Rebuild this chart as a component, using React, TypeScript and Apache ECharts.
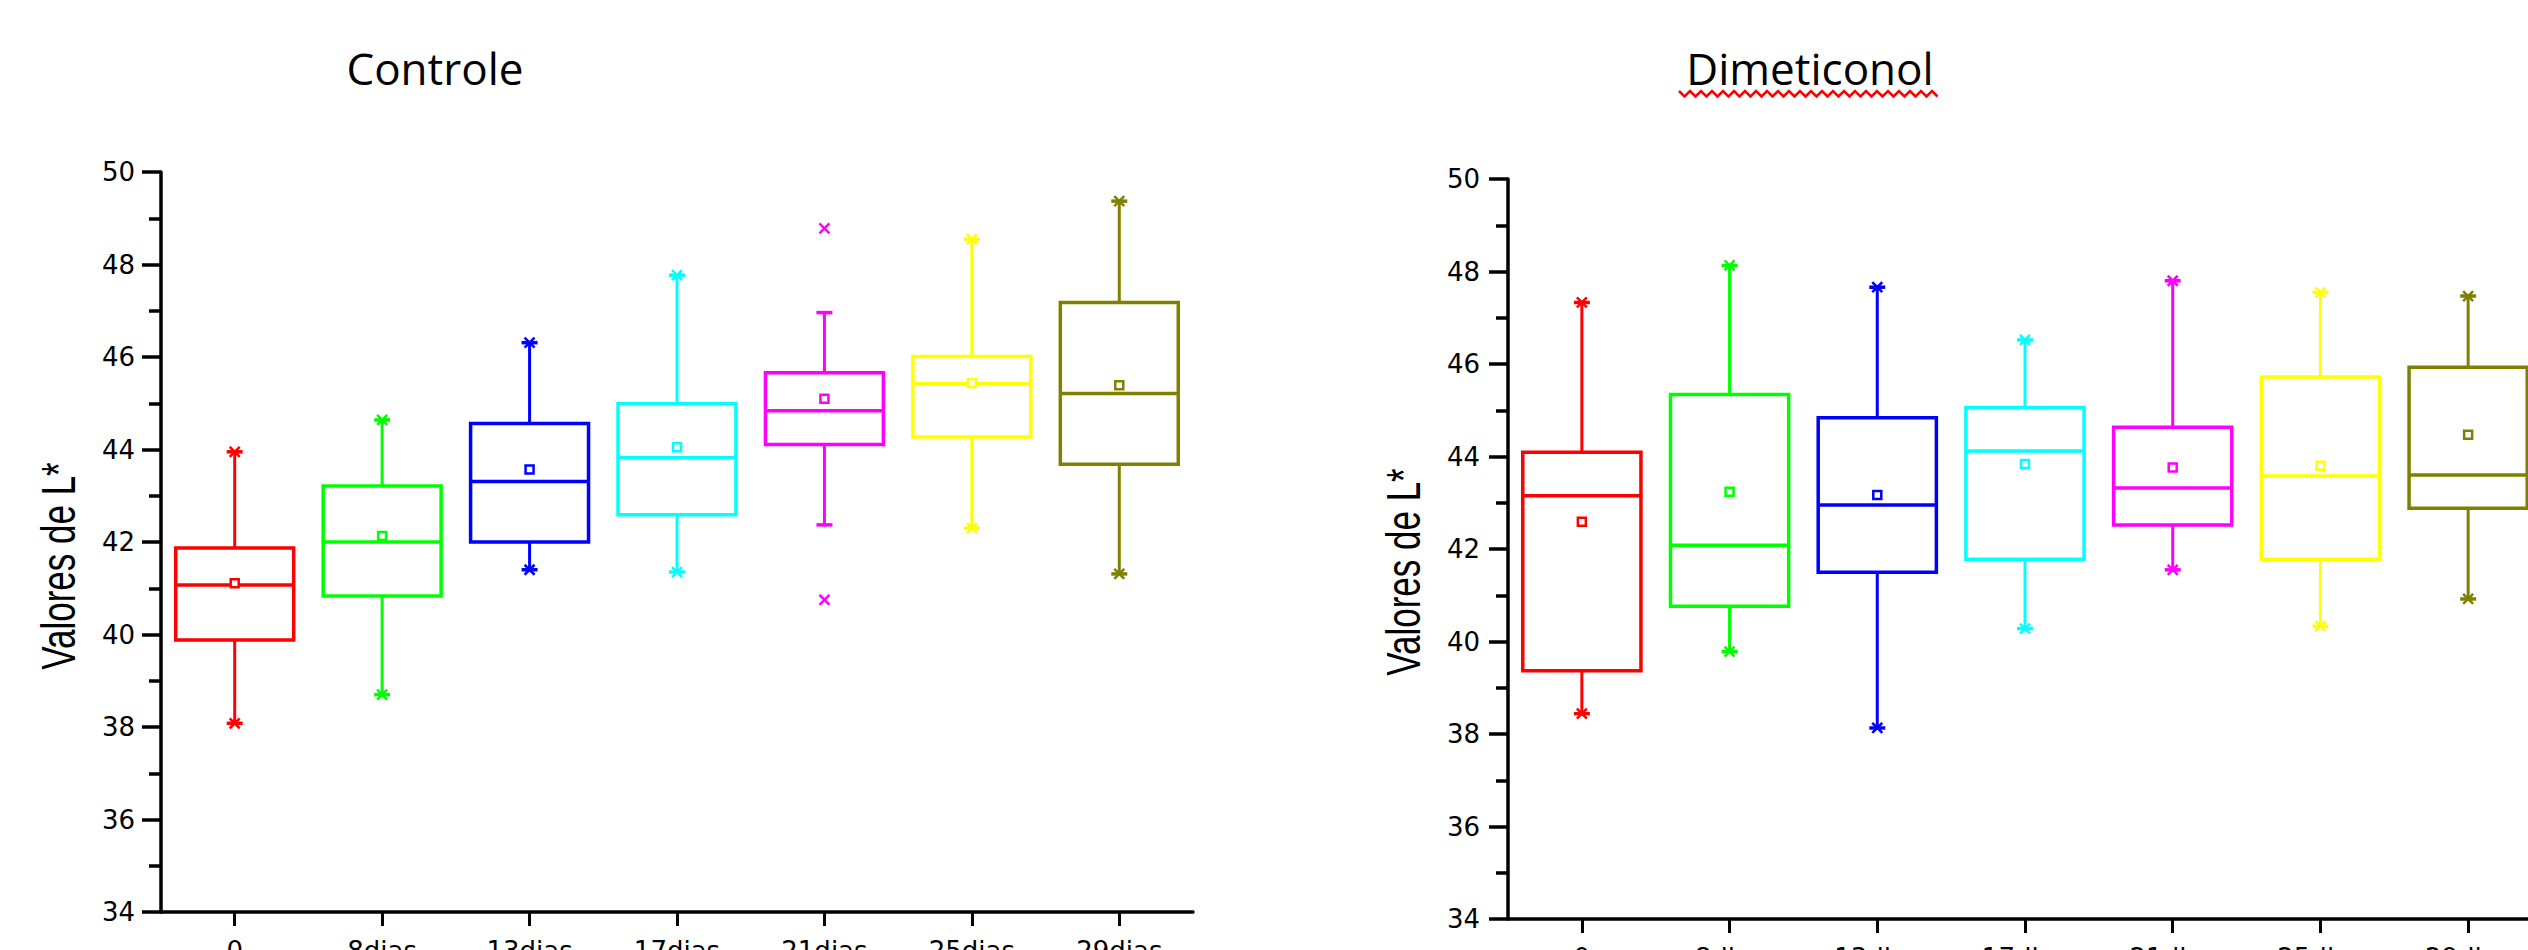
import React, { useEffect, useRef } from 'react';
import * as echarts from 'echarts';

const categories = ['0', '8dias', '13dias', '17dias', '21dias', '25dias', '29dias'];
const boxColors = ['#ff0000', '#00ff00', '#0000ff', '#00ffff', '#ff00ff', '#ffff00', '#808000'];
const yMinValue = 34;
const yMaxValue = 50;
const yInterval = 2;
const yAxisTitle = 'Valores de L*';
const titles = ['Controle', 'Dimeticonol'];

// Controle
const controleMin = [38.08, 38.7, 41.4, 41.35, 40.75, 42.3, 41.31];
const controleWhiskerLow = [38.08, 38.7, 41.4, 41.35, 42.37, 42.3, 41.31];
const controleQ1 = [39.88, 40.83, 42.0, 42.59, 44.11, 44.27, 43.68];
const controleMedian = [41.07, 42.0, 43.31, 43.82, 44.84, 45.42, 45.21];
const controleQ3 = [41.87, 43.21, 44.56, 44.99, 45.66, 46.01, 47.18];
const controleWhiskerHigh = [43.95, 44.64, 46.31, 47.77, 46.96, 48.55, 49.37];
const controleMax = [43.95, 44.64, 46.31, 47.77, 48.78, 48.55, 49.37];
const controleMean = [41.11, 42.13, 43.57, 44.05, 45.1, 45.44, 45.39];

// Dimeticonol
const dimeMin = [38.44, 39.78, 38.13, 40.28, 41.55, 40.33, 40.92];
const dimeQ1 = [39.37, 40.76, 41.5, 41.78, 42.52, 41.78, 42.88];
const dimeMedian = [43.15, 42.08, 42.95, 44.12, 43.32, 43.58, 43.6];
const dimeQ3 = [44.09, 45.34, 44.84, 45.06, 44.63, 45.72, 45.93];
const dimeMax = [47.33, 48.13, 47.66, 46.52, 47.8, 47.55, 47.47];
const dimeMean = [42.59, 43.24, 43.17, 43.84, 43.76, 43.8, 44.47];

function buildRows(
  mn: number[], wl: number[], q1: number[], med: number[],
  q3: number[], wh: number[], mx: number[], mean: number[]
) {
  return categories.map((_, i) => [i, mn[i], wl[i], q1[i], med[i], q3[i], wh[i], mx[i], mean[i]]);
}

function renderBox(params: any, api: any) {
  const i = api.value(0);
  const color = boxColors[i % boxColors.length];
  const band = api.size([1, 0])[0];
  const half = band * 0.4;
  const cx = api.coord([i, api.value(4)])[0];
  const yv = (d: number) => api.coord([i, api.value(d)])[1];
  const yMn = yv(1), yWL = yv(2), yQ1 = yv(3), yMed = yv(4), yQ3 = yv(5), yWH = yv(6), yMx = yv(7), yMean = yv(8);
  const ln = (x1: number, y1: number, x2: number, y2: number, w: number) => ({
    type: 'line',
    shape: { x1, y1, x2, y2 },
    style: { stroke: color, lineWidth: w },
  });
  const cross = (yy: number) => [
    ln(cx - 5, yy - 5, cx + 5, yy + 5, 2.5),
    ln(cx - 5, yy + 5, cx + 5, yy - 5, 2.5),
  ];
  const children: any[] = [
    ln(cx, yQ3, cx, yWH, 3),
    ln(cx, yQ1, cx, yWL, 3),
    ln(cx - 8, yWH, cx + 8, yWH, 3.5),
    ln(cx - 8, yWL, cx + 8, yWL, 3.5),
    ...cross(yMx),
    ...cross(yMn),
    {
      type: 'rect',
      shape: { x: cx - half, y: yQ3, width: 2 * half, height: yQ1 - yQ3 },
      style: { fill: 'none', stroke: color, lineWidth: 3.5 },
    },
    ln(cx - half, yMed, cx + half, yMed, 3.5),
    {
      type: 'rect',
      shape: { x: cx - 4, y: yMean - 4, width: 8, height: 8 },
      style: { fill: '#fff', stroke: color, lineWidth: 2.5 },
    },
  ];
  return { type: 'group', children };
}

function makeXAxis(gridIndex: number) {
  return {
    type: 'category',
    gridIndex,
    data: categories,
    boundaryGap: true,
    axisLine: { show: true, lineStyle: { color: '#000', width: 3.5 } },
    axisTick: { show: true, alignWithLabel: true, length: 14, lineStyle: { color: '#000', width: 3 } },
    axisLabel: { color: '#000', fontFamily: 'DejaVu Sans', fontSize: 26, margin: 26, interval: 0 },
    splitLine: { show: false },
  };
}

function makeYAxis(gridIndex: number, margin: number) {
  return {
    type: 'value',
    gridIndex,
    min: yMinValue,
    max: yMaxValue,
    interval: yInterval,
    axisLine: { show: true, lineStyle: { color: '#000', width: 3.5 } },
    axisTick: { show: true, length: 19, lineStyle: { color: '#000', width: 3.5 } },
    minorTick: { show: true, splitNumber: 2, length: 12, lineStyle: { color: '#000', width: 3.5 } },
    axisLabel: { color: '#000', fontFamily: 'DejaVu Sans', fontSize: 26, margin },
    splitLine: { show: false },
    minorSplitLine: { show: false },
  };
}

export default function App() {
  const ref = useRef<HTMLDivElement>(null);
  useEffect(() => {
    if (!ref.current) return;
    const chart = echarts.init(ref.current, null, { renderer: 'svg' });
    const squiggle: number[][] = [];
    for (let k = 0; k <= 47; k++) {
      squiggle.push([1679 + k * 5.5, k % 2 === 0 ? 91 : 96.5]);
    }
    chart.setOption({
      animation: false,
      backgroundColor: '#ffffff',
      grid: [
        { left: 161, top: 172, width: 1032, height: 740, containLabel: false, outerBoundsMode: 'none' },
        { left: 1508, top: 179, width: 1034, height: 740, containLabel: false, outerBoundsMode: 'none' },
      ],
      xAxis: [makeXAxis(0), makeXAxis(1)],
      yAxis: [makeYAxis(0, 26), makeYAxis(1, 28)],
      series: [
        {
          type: 'custom',
          name: titles[0],
          xAxisIndex: 0,
          yAxisIndex: 0,
          renderItem: renderBox,
          encode: { x: 0, y: [1, 2, 3, 4, 5, 6, 7, 8] },
          data: buildRows(controleMin, controleWhiskerLow, controleQ1, controleMedian, controleQ3, controleWhiskerHigh, controleMax, controleMean),
        },
        {
          type: 'custom',
          name: titles[1],
          xAxisIndex: 1,
          yAxisIndex: 1,
          renderItem: renderBox,
          encode: { x: 0, y: [1, 2, 3, 4, 5, 6, 7, 8] },
          data: buildRows(dimeMin, dimeMin, dimeQ1, dimeMedian, dimeQ3, dimeMax, dimeMax, dimeMean),
        },
      ],
      graphic: [
        {
          type: 'text',
          x: 435,
          y: 68,
          style: { text: titles[0], fontFamily: 'Open Sans', fontSize: 44, fill: '#000', align: 'center', verticalAlign: 'middle' },
        },
        {
          type: 'text',
          x: 1810,
          y: 68,
          style: { text: titles[1], fontFamily: 'Open Sans', fontSize: 44, fill: '#000', align: 'center', verticalAlign: 'middle' },
        },
        {
          type: 'polyline',
          shape: { points: squiggle },
          style: { stroke: '#ff0000', lineWidth: 2.5, fill: 'none' },
        },
        {
          type: 'text',
          x: 58,
          y: 566,
          rotation: Math.PI / 2,
          scaleY: 1.39,
          style: { text: yAxisTitle, fontFamily: 'Liberation Sans', fontSize: 35, fill: '#000', align: 'center', verticalAlign: 'middle' },
        },
        {
          type: 'text',
          x: 1403,
          y: 572,
          rotation: Math.PI / 2,
          scaleY: 1.39,
          style: { text: yAxisTitle, fontFamily: 'Liberation Sans', fontSize: 35, fill: '#000', align: 'center', verticalAlign: 'middle' },
        },
      ],
    });
    return () => chart.dispose();
  }, []);
  return <div ref={ref} style={{ position: 'absolute', left: 0, top: 0, width: 2528, height: 950, overflow: 'hidden' }} />;
}
